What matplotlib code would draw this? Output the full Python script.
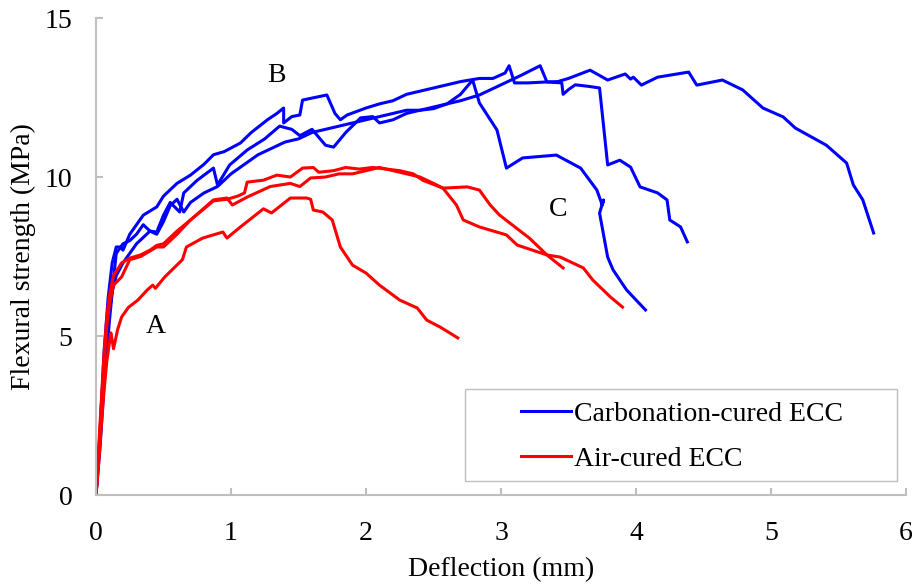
import matplotlib.pyplot as plt
from matplotlib.patches import Rectangle

# Carbonation-cured ECC specimens (deflection mm, flexural strength MPa)
b1_x = [0, 0.03, 0.06, 0.09, 0.12, 0.15, 0.2, 0.25, 0.3, 0.35, 0.4, 0.45, 0.5, 0.55, 0.6, 0.65, 0.7,
        0.8, 0.9, 1.0, 1.1, 1.2, 1.3, 1.4, 1.5, 1.6, 1.7, 1.8, 1.9, 2.0, 2.1, 2.2, 2.3, 2.4, 2.5,
        2.6, 2.7, 2.84, 2.95, 3.05, 3.15, 3.29, 3.34, 3.42, 3.5, 3.66, 3.79, 3.92, 3.96, 3.98, 4.04,
        4.16, 4.39, 4.45, 4.64, 4.79, 4.94, 5.09, 5.18, 5.41, 5.56, 5.61, 5.68, 5.76]
b1_y = [0, 1.8, 4.0, 5.5, 6.4, 6.9, 7.3, 7.6, 7.9, 8.1, 8.3, 8.2, 8.6, 9.1, 9.3, 8.9, 9.2,
        9.5, 9.7, 10.1, 10.4, 10.7, 10.9, 11.1, 11.2, 11.4, 11.5, 11.6, 11.7, 11.8, 11.9, 12.0, 12.1, 12.1, 12.2,
        12.3, 12.4, 12.58, 12.8, 13.0, 13.2, 13.5, 12.99, 13.0, 13.1, 13.36, 13.05, 13.24, 13.08, 13.14, 12.89,
        13.14, 13.3, 12.89, 13.05, 12.74, 12.17, 11.89, 11.54, 11.0, 10.44, 9.75, 9.28, 8.24]

b2_x = [0, 0.03, 0.06, 0.09, 0.12, 0.15, 0.18, 0.2, 0.25, 0.3, 0.35, 0.45, 0.5, 0.6, 0.7, 0.8, 0.87,
        0.95, 1.07, 1.15, 1.27, 1.34, 1.39, 1.39, 1.45, 1.51, 1.53, 1.71, 1.77, 1.81, 1.86, 2.0, 2.1,
        2.2, 2.3, 2.4, 2.5, 2.6, 2.7, 2.84, 2.94, 3.03, 3.06, 3.1, 3.2, 3.34, 3.45, 3.46, 3.5, 3.55,
        3.65, 3.73, 3.79, 3.88, 3.96, 4.03, 4.16, 4.23, 4.25, 4.33, 4.38]
b2_y = [0, 2.0, 4.5, 6.2, 7.3, 7.8, 7.8, 7.7, 8.2, 8.5, 8.8, 9.06, 9.4, 9.8, 10.06, 10.4, 10.7,
        10.8, 11.07, 11.4, 11.8, 12.0, 12.17, 11.7, 11.9, 11.95, 12.42, 12.58, 12.0, 11.8, 11.95, 12.17, 12.3,
        12.4, 12.6, 12.7, 12.8, 12.9, 13.0, 13.1, 13.1, 13.27, 13.5, 12.96, 12.96, 12.99, 12.96, 12.6, 12.75, 12.9,
        12.85, 12.8, 10.38, 10.53, 10.31, 9.69, 9.5, 9.28, 8.65, 8.43, 7.96]

b3_x = [0, 0.03, 0.06, 0.1, 0.13, 0.15, 0.2, 0.25, 0.3, 0.35, 0.4, 0.45, 0.5, 0.55, 0.62, 0.65,
        0.75, 0.87, 0.9, 0.99, 1.12, 1.25, 1.36, 1.45, 1.51, 1.6, 1.7, 1.76, 1.85, 1.96, 2.05, 2.1,
        2.2, 2.3, 2.4, 2.5, 2.6, 2.7, 2.79, 2.84, 2.97, 3.04, 3.16, 3.41, 3.59, 3.71, 3.75, 3.76,
        3.73, 3.79, 3.83, 3.93, 4.07]
b3_y = [0, 1.5, 3.5, 5.5, 6.8, 7.6, 7.9, 8.0, 8.2, 8.5, 8.3, 8.27, 8.8, 9.2, 8.9, 9.5,
        9.9, 10.28, 9.75, 10.38, 10.85, 11.2, 11.6, 11.5, 11.3, 11.5, 11.0, 10.94, 11.4, 11.86, 11.9, 11.7,
        11.8, 12.0, 12.1, 12.15, 12.3, 12.6, 13.05, 12.33, 11.48, 10.28, 10.6, 10.69, 10.28, 9.59, 9.12, 9.28,
        8.87, 7.48, 7.08, 6.45, 5.82]

# Air-cured ECC specimens
r1_x = [0, 0.02, 0.04, 0.06, 0.08, 0.1, 0.11, 0.13, 0.16, 0.19, 0.24, 0.31, 0.38, 0.42, 0.44, 0.51,
        0.64, 0.67, 0.79, 0.94, 0.97, 1.07, 1.24, 1.3, 1.44, 1.56, 1.59, 1.61, 1.68, 1.75, 1.81, 1.9,
        2.0, 2.1, 2.25, 2.38, 2.45, 2.55, 2.68]
r1_y = [0, 1.0, 2.2, 3.3, 4.2, 4.8, 5.1, 4.6, 5.2, 5.6, 5.9, 6.13, 6.45, 6.6, 6.5, 6.86,
        7.4, 7.8, 8.08, 8.27, 8.08, 8.43, 9.0, 8.87, 9.34, 9.34, 9.3, 8.96, 8.9, 8.65, 7.8, 7.23,
        6.98, 6.6, 6.13, 5.88, 5.5, 5.28, 4.94]

r2_x = [0, 0.02, 0.04, 0.06, 0.08, 0.1, 0.13, 0.19, 0.25, 0.33, 0.4, 0.45, 0.5, 0.6, 0.7, 0.8, 0.87,
        0.97, 1.05, 1.1, 1.12, 1.24, 1.34, 1.44, 1.53, 1.61, 1.65, 1.76, 1.85, 1.95, 2.05, 2.15, 2.25,
        2.35, 2.42, 2.57, 2.75, 2.84, 2.92, 2.99, 3.21, 3.34, 3.46]
r2_y = [0, 1.5, 3.0, 4.5, 5.6, 6.3, 6.9, 7.3, 7.45, 7.55, 7.7, 7.85, 7.9, 8.3, 8.65, 9.0, 9.25,
        9.3, 9.4, 9.5, 9.84, 9.9, 10.06, 10.0, 10.28, 10.3, 10.15, 10.2, 10.3, 10.25, 10.3, 10.25, 10.2,
        10.1, 9.9, 9.65, 9.69, 9.59, 9.12, 8.8, 8.08, 7.55, 7.14]

r3_x = [0, 0.02, 0.04, 0.06, 0.08, 0.1, 0.13, 0.19, 0.25, 0.33, 0.45, 0.5, 0.6, 0.7, 0.87, 0.97,
        1.01, 1.12, 1.29, 1.44, 1.51, 1.59, 1.7, 1.8, 1.9, 2.0, 2.1, 2.2, 2.3, 2.4, 2.5, 2.57, 2.67,
        2.72, 2.84, 3.04, 3.12, 3.34, 3.44, 3.61, 3.68, 3.81, 3.9]
r3_y = [0, 1.2, 2.8, 4.2, 5.3, 6.0, 6.6, 6.86, 7.4, 7.5, 7.8, 7.8, 8.2, 8.65, 9.28, 9.34,
        9.12, 9.37, 9.7, 9.8, 9.7, 9.97, 10.0, 10.1, 10.1, 10.2, 10.3, 10.2, 10.1, 10.0, 9.8, 9.65, 9.12,
        8.65, 8.43, 8.18, 7.86, 7.55, 7.48, 7.14, 6.76, 6.23, 5.91]

x_ticks = [0, 1, 2, 3, 4, 5, 6]
y_ticks = [0, 5, 10, 15]

plt.rcParams['font.family'] = ['Liberation Serif', 'DejaVu Serif']
plt.rcParams['font.size'] = 20

fig = plt.figure(figsize=(9.16, 5.85), dpi=100)
ax = fig.add_axes([0.1048, 0.1538, 0.8843, 0.8154])

blue = '#0000FF'
red = '#FF0000'
lw = 2.2

ax.plot(b1_x, b1_y, color=blue, lw=lw, label='Carbonation-cured ECC')
ax.plot(b2_x, b2_y, color=blue, lw=lw)
ax.plot(b3_x, b3_y, color=blue, lw=lw)
ax.plot(r1_x, r1_y, color=red, lw=lw, label='Air-cured ECC')
ax.plot(r2_x, r2_y, color=red, lw=lw)
ax.plot(r3_x, r3_y, color=red, lw=lw)

ax.set_xlim(0, 6)
ax.set_ylim(0, 15)
ax.set_xticks(x_ticks)
ax.set_yticks(y_ticks)

grey = '#BFBFBF'
for side in ['top', 'right']:
    ax.spines[side].set_visible(False)
for side in ['left', 'bottom']:
    ax.spines[side].set_color(grey)
    ax.spines[side].set_linewidth(1.5)
ax.tick_params(direction='in', length=5, width=1.5, color=grey)
ax.tick_params(axis='x', pad=19)
ax.tick_params(axis='y', pad=17)

ax.set_xlabel('Deflection (mm)', labelpad=8)
ax.set_ylabel('Flexural strength (MPa)', labelpad=6)

# curve annotations
ax.text(0.44, 5.3, 'A', ha='center', va='center')
ax.text(1.34, 13.2, 'B', ha='center', va='center')
ax.text(3.42, 8.97, 'C', ha='center', va='center')

# legend box
ax.add_patch(Rectangle((0.4556, 0.029), 0.5334, 0.193, transform=ax.transAxes,
                       fill=False, edgecolor=grey, lw=1.0, clip_on=False))
leg = ax.legend(loc='upper left', bbox_to_anchor=(0.508, 0.226), frameon=False,
                handlelength=1.8, handletextpad=0.1, labelspacing=0.72, borderpad=0)

fig.savefig('out.png', dpi=100)
